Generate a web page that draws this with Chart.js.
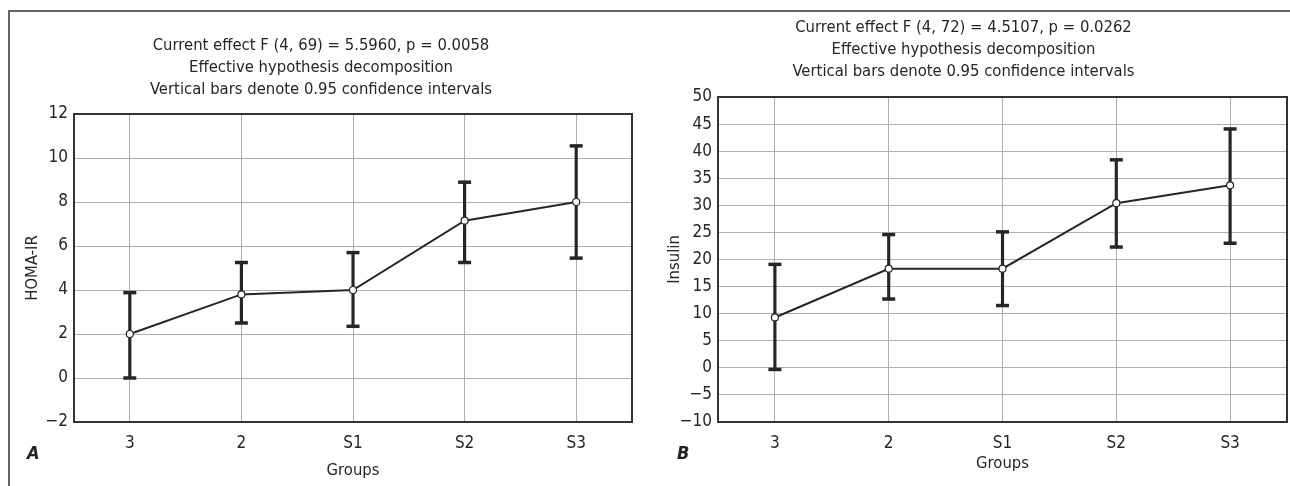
<!DOCTYPE html>
<html>
<head>
<meta charset="utf-8">
<script src="https://cdn.jsdelivr.net/npm/chart.js@4/dist/chart.umd.min.js"></script>
<style>
  body { margin:0; background:#fff; width:1290px; height:486px; overflow:hidden; position:relative; }
  .frame { position:absolute; left:8px; top:10px; width:1282px; height:476px; border-top:2px solid #666; border-left:2px solid #666; }
  canvas { position:absolute; top:12px; }
  #chA { left:10px; }
  #chB { left:640px; }
  .tag { position:absolute; font:italic bold 18px 'Liberation Sans Narrow','DejaVu Sans Condensed',sans-serif; color:#222; }
</style>
</head>
<body>
<div class="frame"></div>
<canvas id="chA" width="630" height="474"></canvas>
<canvas id="chB" width="650" height="474"></canvas>
<div class="tag" style="left:27px;top:442px">A</div>
<div class="tag" style="left:677px;top:442px">B</div>
<script>
const groups = ['3', '2', 'S1', 'S2', 'S3'];

const homaMean = [2.0, 3.8, 4.0, 7.15, 8.0];
const homaLow  = [0.0, 2.5, 2.35, 5.25, 5.45];
const homaHigh = [3.88, 5.25, 5.7, 8.9, 10.55];

const insMean = [9.3, 18.3, 18.3, 30.4, 33.7];
const insLow  = [-0.3, 12.7, 11.5, 22.3, 23.0];
const insHigh = [19.1, 24.6, 25.1, 38.4, 44.1];

const titleA = ['Current effect F (4, 69) = 5.5960, p = 0.0058', 'Effective hypothesis decomposition', 'Vertical bars denote 0.95 confidence intervals'];
const titleB = ['Current effect F (4, 72) = 4.5107, p = 0.0262', 'Effective hypothesis decomposition', 'Vertical bars denote 0.95 confidence intervals'];

const FONT = "'Liberation Sans Narrow','DejaVu Sans Condensed',sans-serif";
const INK = '#262626';
Chart.defaults.font.family = FONT;
Chart.defaults.color = INK;

const minus = v => String(v).replace('-', '\u2212');

// plot frame around the chart area
const plotBox = {
  id: 'plotBox',
  beforeDatasetsDraw(chart) {
    const { ctx, chartArea: a } = chart;
    ctx.save();
    ctx.strokeStyle = '#333';
    ctx.lineWidth = 2;
    ctx.strokeRect(a.left, a.top, a.right - a.left, a.bottom - a.top);
    ctx.restore();
  }
};

function makeChart(id, o) {
  return new Chart(document.getElementById(id), {
    data: {
      labels: groups,
      datasets: [
        { type:'line', data:o.mean, borderColor:INK, borderWidth:2, tension:0,
          pointRadius:3.5, pointBackgroundColor:'#fff', pointBorderColor:INK, pointBorderWidth:1.2, order:0 },
        { type:'line', data:o.high, showLine:false, pointStyle:'line', pointRadius:6.5,
          borderColor:INK, borderWidth:3.5, order:1 },
        { type:'line', data:o.low, showLine:false, pointStyle:'line', pointRadius:6.5,
          borderColor:INK, borderWidth:3.5, order:1 },
        { type:'bar', data:o.low.map((l, i) => [l, o.high[i]]), backgroundColor:INK,
          barThickness:2.5, order:2 }
      ]
    },
    options: {
      responsive:false, animation:false, events:[],
      layout:{ autoPadding:false, padding:{ left:0, right:o.padRight, top:0, bottom:0 } },
      plugins:{
        legend:{ display:false }, tooltip:{ enabled:false },
        title:{ display:true, text:o.title, font:{ size:16.5, weight:'normal', lineHeight:22 / 16.5 },
          color:INK, padding:{ top:o.titleTop, bottom:o.titleBottom } }
      },
      scales:{
        x:{ offset:true,
          grid:{ offset:false, color:'#b0b0b0', lineWidth:1, drawTicks:false },
          border:{ display:false },
          ticks:{ font:{ size:17 }, padding:11, color:INK },
          title:{ display:true, text:'Groups', font:{ size:16.5 }, color:INK, padding:{ top:0, bottom:o.xTitlePad } },
          afterFit:s => { s.height = 64; s.paddingLeft = 0; s.paddingRight = 0; } },
        y:{ min:o.min, max:o.max,
          grid:{ color:'#b0b0b0', lineWidth:1, drawTicks:false },
          border:{ display:false },
          ticks:{ stepSize:o.step, font:{ size:17 }, padding:6, color:INK, callback:v => minus(v) },
          title:{ display:true, text:o.yTitle, font:{ size:16.5 }, color:INK, padding:{ top:o.yTitlePad, bottom:0 } },
          afterFit:s => { s.width = o.yWidth; } }
      }
    },
    plugins:[plotBox]
  });
}

makeChart('chA', { mean:homaMean, low:homaLow, high:homaHigh, title:titleA, yTitle:'HOMA-IR',
  min:-2, max:12, step:2, yWidth:64, padRight:8, titleTop:23, titleBottom:13, yTitlePad:13, xTitlePad:5 });
makeChart('chB', { mean:insMean, low:insLow, high:insHigh, title:titleB, yTitle:'Insulin',
  min:-10, max:50, step:5, yWidth:78, padRight:3, titleTop:5, titleBottom:14, yTitlePad:25, xTitlePad:12 });
</script>
</body>
</html>
